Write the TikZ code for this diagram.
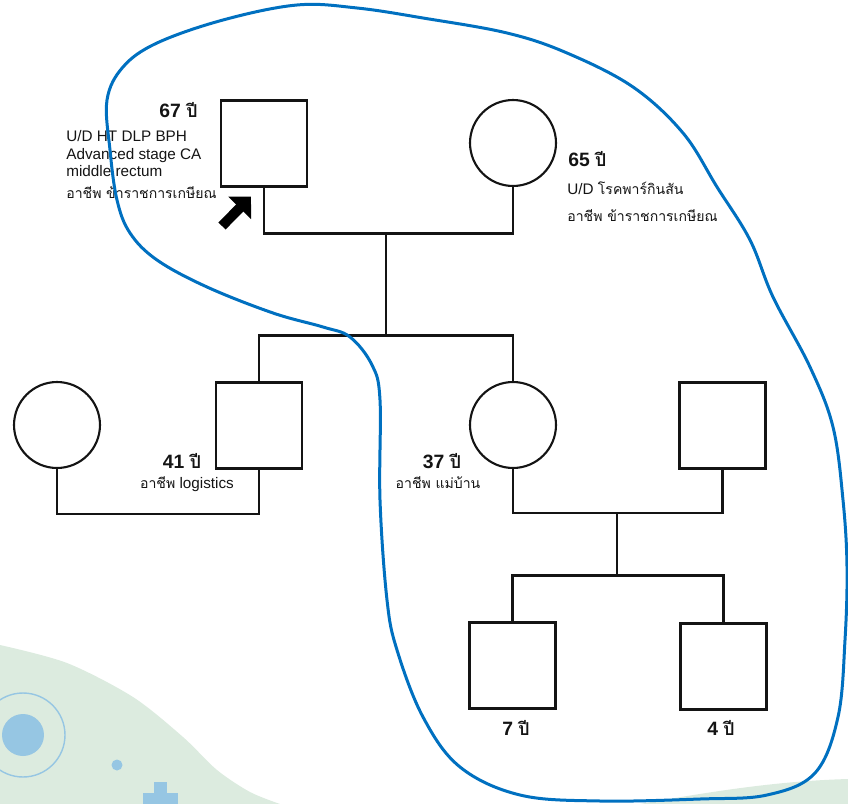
\documentclass[tikz,border=0pt]{standalone}
\usepackage{fontspec}
\setmainfont{Liberation Sans}
\newfontfamily\thaifont[Script=Thai,Scale=0.92]{Loma}
\usepackage{tikz}
\usetikzlibrary{arrows.meta,calc}
\definecolor{pedline}{RGB}{20,20,20}
\definecolor{kinblue}{RGB}{0,112,192}
\definecolor{leafgreen}{RGB}{220,235,223}
\definecolor{skyblue}{RGB}{150,198,227}
\tikzset{
  male/.style={rectangle, draw=pedline, fill=white, line width=1.2pt, minimum size=1.72cm, inner sep=0pt},
  female/.style={circle, draw=pedline, fill=white, line width=1.2pt, minimum size=1.72cm, inner sep=0pt},
  rel/.style={draw=pedline, line width=1.2pt},
  age/.style={font=\fontsize{11}{13}\selectfont\bfseries, inner sep=0pt, text=pedline},
  note/.style={font=\fontsize{8.7}{10}\selectfont, align=left, inner sep=0pt, text=pedline},
  kin/.style={draw=kinblue, line width=0.06cm},
  proband/.style={line width=0.2cm, draw=black, -{Triangle[length=0.32cm,width=0.62cm]}},
  leaf/.style={fill=leafgreen},
  dot/.style={fill=skyblue},
}

\begin{document}
\begin{tikzpicture}[x=0.02cm,y=-0.02cm]
  \useasboundingbox (0,0) rectangle (848,804);
  % background ornaments
  \fill[leaf] plot[smooth] coordinates {(0,645) (67,663) (133,697) (183,737) (217,770) (250,792) (280,804)} -- (0,804) -- cycle;
  \fill[leaf] (640,804) .. controls (720,790) and (780,781) .. (848,779) -- (848,804) -- cycle;
  \fill[dot] (23,735) circle (0.42cm);
  \draw[draw=skyblue, line width=0.8pt] (23,735) circle (0.84cm);
  \fill[dot] (117,765) circle (0.11cm);
  \fill[dot] (154,782) rectangle (167,804);
  \fill[dot] (143,793) rectangle (178,804);

  % generation I
  \node[male] (gf) at (264,143.5) {};
  \node[female] (gm) at (513,143) {};
  % generation II
  \node[female] (sonwife) at (57,425) {};
  \node[male] (son) at (259,425.5) {};
  \node[female] (dau) at (513,425) {};
  \node[male] (dauhusb) at (722.5,425.5) {};
  % generation III
  \node[male] (kid1) at (512.5,665.5) {};
  \node[male] (kid2) at (723.5,666.5) {};

  \draw[rel] (gf.south) -- ++(0,46) -| (gm.south);
  \coordinate (gpline) at (386,232);
  \coordinate (sibline) at (386,337);
  \draw[rel] (gpline) -- (sibline);
  \draw[rel] (son.north) -- ++(0,-46) -| (dau.north);
  \draw[rel] (sonwife.south) -- ++(0,45) -| (son.south);
  \draw[rel] (dau.south) -- ++(0,44) -| (dauhusb.south);
  \coordinate (dauline) at (617,512);
  \coordinate (kidsline) at (617,577);
  \draw[rel] (dauline) -- (kidsline);
  \draw[rel] (kid1.north) -- ++(0,-46) -| (kid2.north);

  \coordinate (arrtail) at (222,226);
  \coordinate (arrtip) at ($(gf.south west)+(31,9)$);
  \draw[proband] (arrtail) -- (arrtip);

  \node[age,anchor=base east] (gfage) at (198,118) {67 {\thaifont ปี}};
  \node[note,anchor=base west] (gfnote) at (66,198) {U/D HT DLP BPH\\Advanced stage CA\\middle rectum\\[2pt]{\thaifont อาชีพ ข้าราชการเกษียณ}};
  \node[age,anchor=base west] (gmage) at (568,167) {65 {\thaifont ปี}};
  \node[note,anchor=base west] (gmnote) at (567,221) {U/D {\thaifont โรคพาร์กินสัน}\\[5pt]{\thaifont อาชีพ ข้าราชการเกษียณ}};
  \node[age,anchor=base] (sonage) at (182,468) {41 {\thaifont ปี}};
  \node[note,anchor=base] (sonnote) at (187,488) {{\thaifont อาชีพ} logistics};
  \node[age,anchor=base] (dauage) at (442,468) {37 {\thaifont ปี}};
  \node[note,anchor=base] (daunote) at (438,488) {{\thaifont อาชีพ แม่บ้าน}};
  \node[age,anchor=base] (kid1age) at (516,735) {7 {\thaifont ปี}};
  \node[age,anchor=base] (kid2age) at (721,735) {4 {\thaifont ปี}};

  % family circled in blue
  \draw[kin] plot[smooth cycle, tension=0.6] coordinates {(107,100) (123,67) (157,43) (223,20) (297,5) (357,8) (423,18) (507,33) (567,53) (633,87) (683,133) (717,187) (750,240) (773,297) (810,367) (833,427) (843,500) (847,567) (845,640) (838,717) (815,773) (767,795) (700,799) (600,801) (520,795) (460,767) (423,717) (397,650) (387,600) (380,500) (380,400) (372,365) (350,337) (323,327) (273,313) (207,287) (157,260) (130,233) (117,200) (110,150)};
\end{tikzpicture}
\end{document}
